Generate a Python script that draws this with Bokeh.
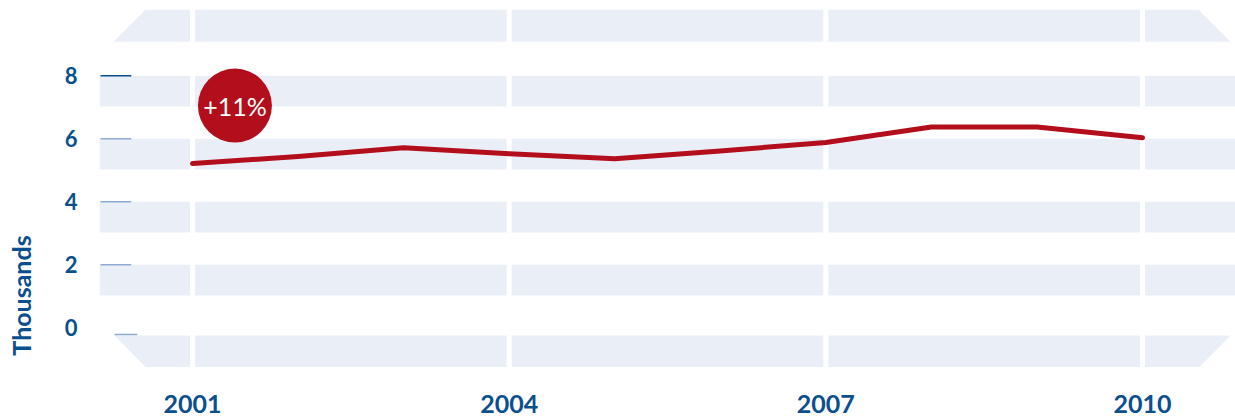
import math
from bokeh.plotting import figure
from bokeh.layouts import row
from bokeh.models import FixedTicker, ColumnDataSource
from bokeh.core.properties import value
from bokeh.embed import file_html
from bokeh.resources import INLINE

# ---- data ----
years = [2001, 2002, 2003, 2004, 2005, 2006, 2007, 2008, 2009, 2010]
values = [5.21, 5.43, 5.71, 5.52, 5.36, 5.61, 5.88, 6.37, 6.37, 6.03]
y_ticks = [0, 2, 4, 6, 8]
x_ticks = [2001, 2004, 2007, 2010]
badge_text = ["+11%"]
y_label = "Thousands"

BLUE = "#0B4F8E"
RED = "#B30E1B"
BAND = "#EAEFF7"
TICK_LIGHT = "#8EABD3"
FONT = "Lato"

X0, X1 = 2000.119, 2010.881
Y1 = 10.1
Y0 = Y1 - 358 / 31.5

# ---- narrow strip holding the rotated axis title ----
TW, TH = 40, 417
title_fig = figure(frame_width=TW, frame_height=TH, x_range=(0, TW), y_range=(0, TH),
                   x_axis_type=None, y_axis_type=None,
                   output_backend="svg", toolbar_location=None,
                   min_border_left=0, min_border_right=0, min_border_top=0,
                   min_border_bottom=0, outline_line_color=None)
title_fig.grid.visible = False
title_fig.text(x=[20], y=[TH - 286], text=[y_label], angle=math.pi / 2,
               text_font=value(FONT), text_font_style="bold", text_font_size="25px",
               text_color=BLUE, text_align="center", text_baseline="middle")

# ---- main chart ----
p = figure(frame_width=1136, frame_height=358, x_range=(X0, X1), y_range=(Y0, Y1),
           output_backend="svg", toolbar_location=None,
           min_border_left=99 - TW, min_border_right=0, min_border_top=9,
           min_border_bottom=50, background_fill_color="white",
           border_fill_color="white", outline_line_color=None)
p.xgrid.visible = False
p.ygrid.visible = False

# background bands
bh = 0.98
xs, ys = [], []
for t in y_ticks[1:]:
    xs.append([X0, X1 + 0.1, X1 + 0.1, X0])
    ys.append([t, t, t - bh, t - bh])
xs.append([2000.555, 2010.53, 2010.833, 2000.252])   # top band (trapezoid)
ys.append([Y1, Y1, 9.08, 9.08])
xs.append([2000.261, 2010.833, 2010.54, 2000.555])   # bottom band (trapezoid)
ys.append([-0.25, -0.25, Y0 + 0.015, Y0 + 0.015])
p.patches(xs, ys, fill_color=BAND, line_color=None)

# white vertical separators
p.segment(x0=x_ticks, x1=x_ticks, y0=[Y0] * 4, y1=[Y1] * 4,
          line_color="white", line_width=5)

# tick marks inside plot
tick_y = [t if t != 0 else -0.22 for t in y_ticks]
tick_x0 = [2000.129 if t != 0 else 2000.261 for t in y_ticks]
tick_x1 = [2000.42 if t != 0 else 2000.479 for t in y_ticks]
tick_col = [BLUE if t == 8 else TICK_LIGHT for t in y_ticks]
p.segment(x0=tick_x0, x1=tick_x1, y0=tick_y, y1=tick_y,
          line_color=tick_col, line_width=1.5)

# data line
src = ColumnDataSource(dict(x=years, y=values))
p.line("x", "y", source=src, line_color=RED, line_width=5,
       line_cap="round", line_join="round")

# badge
p.scatter(x=[2001.402], y=[7.05], size=74, fill_color=RED, line_color=None)
p.text(x=[2001.402], y=[7.05], text=badge_text, text_color="white",
       text_font=value(FONT), text_font_size="25px",
       text_align="center", text_baseline="middle")

# axes
xa = p.xaxis[0]
xa.ticker = FixedTicker(ticks=x_ticks)
xa.axis_line_color = None
xa.major_tick_line_color = None
xa.minor_tick_line_color = None
xa.major_tick_out = 0
xa.major_tick_in = 0
xa.major_label_standoff = 27
xa.major_label_text_font = FONT
xa.major_label_text_font_style = "bold"
xa.major_label_text_font_size = "25px"
xa.major_label_text_color = BLUE

ya = p.yaxis[0]
ya.ticker = FixedTicker(ticks=y_ticks)
ya.axis_line_color = None
ya.major_tick_line_color = None
ya.minor_tick_line_color = None
ya.major_tick_out = 0
ya.major_tick_in = 0
ya.major_label_standoff = 22
ya.major_label_text_font = FONT
ya.major_label_text_font_style = "bold"
ya.major_label_text_font_size = "22px"
ya.major_label_text_color = BLUE

layout = row(title_fig, p, spacing=0)
open("out.html", "w").write(file_html(layout, INLINE))
